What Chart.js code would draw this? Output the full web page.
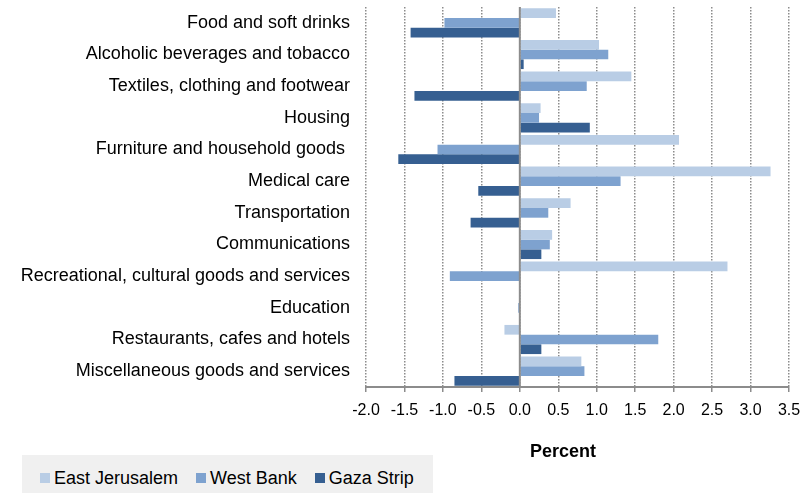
<!DOCTYPE html>
<html>
<head>
<meta charset="utf-8">
<title>Price change by group</title>
<script src="https://cdn.jsdelivr.net/npm/chart.js@4/dist/chart.umd.min.js"></script>
<style>
  html, body { margin: 0; padding: 0; background: #fff; }
  #wrap { position: relative; width: 803px; height: 493px; overflow: hidden; }
  #chart { position: absolute; left: 0; top: 0; }
  #axis-title {
    position: absolute; left: 463px; width: 200px; top: 441px;
    text-align: center; font: bold 18px "Liberation Sans", Arial, sans-serif; color: #000;
  }
  #legend {
    position: absolute; left: 22px; top: 455px; width: 411px; height: 46px;
    background: #f0f0f0; display: flex; align-items: center;
    font: 18px "Liberation Sans", Arial, sans-serif; color: #000;
  }
  #legend .item { display: flex; align-items: center; margin-left: 18px; }
  #legend .sw { width: 10px; height: 10px; margin-right: 4px; }
</style>
</head>
<body>
<div id="wrap">
  <canvas id="chart" width="803" height="493"></canvas>
  <div id="axis-title">Percent</div>
  <div id="legend"></div>
</div>
<script>
// categories, top to bottom
const categories = [
  "Food and soft drinks",
  "Alcoholic beverages and tobacco",
  "Textiles, clothing and footwear",
  "Housing",
  "Furniture and household goods ",
  "Medical care",
  "Transportation",
  "Communications",
  "Recreational, cultural goods and services",
  "Education",
  "Restaurants, cafes and hotels",
  "Miscellaneous goods and services"
];

const seriesNames = ["East Jerusalem", "West Bank", "Gaza Strip"];
const seriesColors = ["#b9cde5", "#7ea2cf", "#365f91"];

// percent change per group
const eastJerusalem = [0.47, 1.03, 1.45, 0.27, 2.07, 3.26, 0.66, 0.42, 2.70, 0.00, -0.20, 0.80];
const westBank = [-0.98, 1.15, 0.87, 0.25, -1.07, 1.31, 0.37, 0.39, -0.91, -0.02, 1.80, 0.84];
const gazaStrip = [-1.42, 0.05, -1.37, 0.91, -1.58, -0.54, -0.64, 0.28, 0.00, 0.00, 0.28, -0.85];

const xMin = -2.0;
const xMax = 3.5;
const xStep = 0.5;

(function () {
  Chart.defaults.font.family = "'Liberation Sans', Arial, sans-serif";
  Chart.defaults.color = "#000";

  const values = [eastJerusalem, westBank, gazaStrip];

  // solid line at zero, drawn over the bars
  const zeroLine = {
    id: "zeroLine",
    afterDatasetsDraw(chart) {
      const { ctx, chartArea, scales } = chart;
      const x0 = scales.x.getPixelForValue(0);
      ctx.save();
      ctx.strokeStyle = "#8c8c8c";
      ctx.lineWidth = 2;
      ctx.beginPath();
      ctx.moveTo(x0, chartArea.top);
      ctx.lineTo(x0, chartArea.bottom);
      ctx.stroke();
      ctx.restore();
    }
  };

  new Chart(document.getElementById("chart"), {
    type: "bar",
    data: {
      labels: categories,
      datasets: seriesNames.map((name, i) => ({
        label: name,
        data: values[i],
        backgroundColor: seriesColors[i],
        borderWidth: 0,
        categoryPercentage: 0.92,
        barPercentage: 1.0
      }))
    },
    options: {
      indexAxis: "y",
      responsive: false,
      animation: false,
      devicePixelRatio: 1,
      layout: { padding: { top: 7, right: 14, left: 0, bottom: 0 } },
      plugins: { legend: { display: false }, tooltip: { enabled: false } },
      scales: {
        x: {
          min: xMin, max: xMax,
          afterFit(scale) {
            scale.height = 106;
            scale.paddingLeft = 0;
            scale.paddingRight = 0;
          },
          ticks: {
            stepSize: xStep,
            padding: 9,
            font: { size: 16 },
            color: "#000",
            callback: (v) => Number(v).toFixed(1)
          },
          grid: {
            color: "#8c8c8c",
            lineWidth: 1.5,
            drawTicks: true,
            tickLength: 5,
            tickColor: "#8c8c8c",
            tickWidth: 1.5,
            tickBorderDash: []
          },
          border: { display: true, color: "#8c8c8c", width: 2, dash: [1.5, 1.5] }
        },
        y: {
          afterFit(scale) {
            scale.width = 366;
            scale.paddingTop = 0;
            scale.paddingBottom = 0;
          },
          ticks: { padding: 8, font: { size: 18 }, color: "#000", autoSkip: false },
          grid: { display: false },
          border: { display: false }
        }
      }
    },
    plugins: [zeroLine]
  });

  // legend
  const legend = document.getElementById("legend");
  seriesNames.forEach((name, i) => {
    const item = document.createElement("div");
    item.className = "item";
    const sw = document.createElement("span");
    sw.className = "sw";
    sw.style.background = seriesColors[i];
    const txt = document.createElement("span");
    txt.textContent = name;
    item.appendChild(sw);
    item.appendChild(txt);
    legend.appendChild(item);
  });
})();
</script>
</body>
</html>
